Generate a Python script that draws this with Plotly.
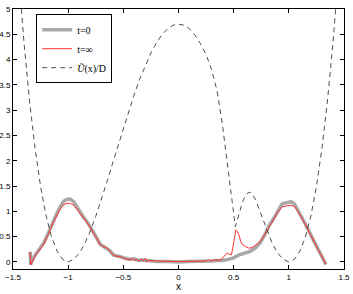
import plotly.graph_objects as go

# density at t=0 (thick grey)
x_t0 = [-1.345, -1.34, -1.31, -1.28, -1.25, -1.22, -1.19, -1.16, -1.13, -1.10, -1.07, -1.04,
        -1.01, -0.98, -0.95, -0.92, -0.89, -0.86, -0.83, -0.80, -0.77, -0.74, -0.71, -0.68,
        -0.65, -0.62, -0.59, -0.56, -0.53, -0.50, -0.47, -0.44, -0.40, -0.36, -0.32, -0.28,
        -0.24, -0.20, -0.10, 0.0, 0.10, 0.20, 0.30, 0.35, 0.40, 0.45, 0.50, 0.55, 0.60, 0.65,
        0.70, 0.74, 0.78, 0.82, 0.86, 0.90, 0.94, 0.98, 1.02, 1.05, 1.08, 1.11, 1.14, 1.17,
        1.20, 1.23, 1.26, 1.29, 1.32, 1.335]
p_t0 = [0.20, -0.05, 0.10, 0.20, 0.30, 0.38, 0.52, 0.68, 0.82, 0.97, 1.10, 1.20,
        1.24, 1.24, 1.19, 1.08, 0.97, 0.88, 0.80, 0.70, 0.58, 0.47, 0.35, 0.31,
        0.28, 0.22, 0.14, 0.12, 0.11, 0.08, 0.06, 0.05, 0.06, 0.03, 0.04, 0.03,
        0.02, 0.01, 0.01, 0.0, 0.01, 0.01, 0.02, 0.03, 0.03, 0.05, 0.08, 0.14, 0.17, 0.21,
        0.28, 0.38, 0.53, 0.72, 0.85, 1.00, 1.15, 1.17, 1.19, 1.15, 1.04, 0.92, 0.79, 0.66,
        0.52, 0.40, 0.27, 0.15, 0.03, -0.05]

# density at t=inf (thin red)
x_inf = [-1.345, -1.34, -1.31, -1.28, -1.25, -1.22, -1.19, -1.16, -1.13, -1.10, -1.07, -1.04,
         -1.01, -0.98, -0.95, -0.92, -0.89, -0.86, -0.83, -0.80, -0.77, -0.74, -0.71, -0.68,
         -0.65, -0.62, -0.59, -0.56, -0.53, -0.50, -0.47, -0.44, -0.42, -0.40, -0.38, -0.36,
         -0.34, -0.32, -0.30, -0.29, -0.27, -0.22, -0.15, -0.05, 0.05, 0.15, 0.25, 0.27, 0.29,
         0.33, 0.36, 0.39, 0.42, 0.44, 0.46, 0.48, 0.50, 0.52, 0.535, 0.55, 0.565, 0.58, 0.61,
         0.64, 0.67, 0.70, 0.74, 0.78, 0.82, 0.86, 0.90, 0.94, 0.98, 1.02, 1.05, 1.08, 1.11,
         1.14, 1.17, 1.20, 1.23, 1.26, 1.29, 1.32, 1.335]
p_inf = [0.20, -0.06, 0.08, 0.18, 0.28, 0.36, 0.50, 0.66, 0.80, 0.93, 1.05, 1.13,
         1.16, 1.16, 1.12, 1.04, 0.95, 0.87, 0.79, 0.69, 0.57, 0.46, 0.34, 0.30,
         0.28, 0.21, 0.13, 0.11, 0.11, 0.07, 0.05, 0.05, 0.07, 0.03, 0.05, 0.02,
         0.06, 0.02, 0.07, 0.0, 0.03, 0.02, 0.01, 0.01, 0.01, 0.01, 0.02, 0.05, 0.02,
         0.04, 0.03, 0.05, 0.12, 0.18, 0.15, 0.14, 0.38, 0.63, 0.60, 0.52, 0.40, 0.34, 0.30,
         0.27, 0.29, 0.34, 0.40, 0.53, 0.68, 0.84, 0.98, 1.09, 1.10, 1.12, 1.10, 1.01, 0.90,
         0.78, 0.65, 0.51, 0.39, 0.26, 0.14, 0.03, -0.05]

# potential U~(x)/D (dashed)
x_pot = [-1.45, -1.40, -1.35, -1.30, -1.25, -1.20, -1.15, -1.10, -1.05, -1.00, -0.95, -0.90,
         -0.85, -0.80, -0.75, -0.70, -0.65, -0.60, -0.55, -0.50, -0.45, -0.40, -0.35, -0.30,
         -0.25, -0.20, -0.15, -0.10, -0.05, 0.0, 0.05, 0.10, 0.15, 0.20, 0.25, 0.30, 0.35,
         0.40, 0.45, 0.475, 0.50, 0.515, 0.53, 0.55, 0.575, 0.60, 0.625, 0.65, 0.675, 0.70,
         0.725, 0.75, 0.80, 0.85, 0.90, 0.95, 1.00, 1.05, 1.10, 1.15, 1.20, 1.25, 1.30, 1.35,
         1.40, 1.45]
u_pot = [5.71, 4.33, 3.18, 2.24, 1.49, 0.91, 0.49, 0.21, 0.05, 0.0, 0.05, 0.17,
         0.36, 0.61, 0.90, 1.22, 1.57, 1.93, 2.29, 2.64, 2.99, 3.32, 3.62, 3.89,
         4.13, 4.33, 4.49, 4.61, 4.68, 4.70, 4.68, 4.61, 4.48, 4.31, 4.10, 3.80, 3.38,
         2.68, 1.78, 1.30, 0.90, 0.70, 0.80, 0.97, 1.15, 1.28, 1.36, 1.38, 1.32, 1.22,
         1.08, 0.92, 0.62, 0.36, 0.17, 0.05, 0.0, 0.05, 0.21, 0.49, 0.91, 1.49, 2.24, 3.18,
         4.33, 5.71]

x_ticks = [-1.5, -1, -0.5, 0, 0.5, 1, 1.5]
y_ticks = [0, 0.5, 1, 1.5, 2, 2.5, 3, 3.5, 4, 4.5, 5]

fig = go.Figure()
fig.add_trace(go.Scatter(x=x_t0, y=p_t0, mode='lines', name='t=0',
                         line=dict(color='#a8a8a8', width=3.5)))
fig.add_trace(go.Scatter(x=x_inf, y=p_inf, mode='lines', name='t=∞',
                         line=dict(color='#ff3030', width=1)))
fig.add_trace(go.Scatter(x=x_pot, y=u_pot, mode='lines', name='<i>Ũ</i>(x)/D',
                         line=dict(color='#222222', width=0.8, dash='5px,4px')))

axis_common = dict(showgrid=False, zeroline=False, showline=True, linecolor='black',
                   linewidth=1, mirror='ticks', ticks='inside', ticklen=4,
                   tickcolor='black', automargin=False,
                   tickfont=dict(family='Liberation Sans', size=8, color='black'))

fig.update_xaxes(range=[-1.5, 1.5], tickvals=x_ticks,
                 ticktext=['\u22121.5', '\u22121', '\u22120.5', '0', '0.5', '1', '1.5'],
                 **axis_common)
fig.update_yaxes(range=[-0.14, 5], tickvals=y_ticks,
                 ticktext=['0', '0.5', '1', '1.5', '2', '2.5', '3', '3.5', '4', '4.5', '5'],
                 **axis_common)

# x label as annotation so it sits just under the tick labels
fig.add_annotation(text='x', xref='paper', yref='paper', x=0.5, y=-0.068,
                   xanchor='center', yanchor='middle', showarrow=False,
                   font=dict(family='Liberation Sans', size=10, color='black'))

fig.update_layout(
    width=353, height=294,
    margin=dict(l=13, r=9, t=9, b=25),
    paper_bgcolor='white', plot_bgcolor='white',
    showlegend=True,
    legend=dict(x=0.07, y=0.98, xanchor='left', yanchor='top',
                bgcolor='white', bordercolor='black', borderwidth=1,
                font=dict(family='Liberation Serif', size=10, color='black'),
                tracegroupgap=0, itemwidth=30),
)

# drop the default page margin so the figure sits at the window's corner
fig.write_html("out.html", config={'displayModeBar': False},
               post_script="document.body.style.margin='0';")
